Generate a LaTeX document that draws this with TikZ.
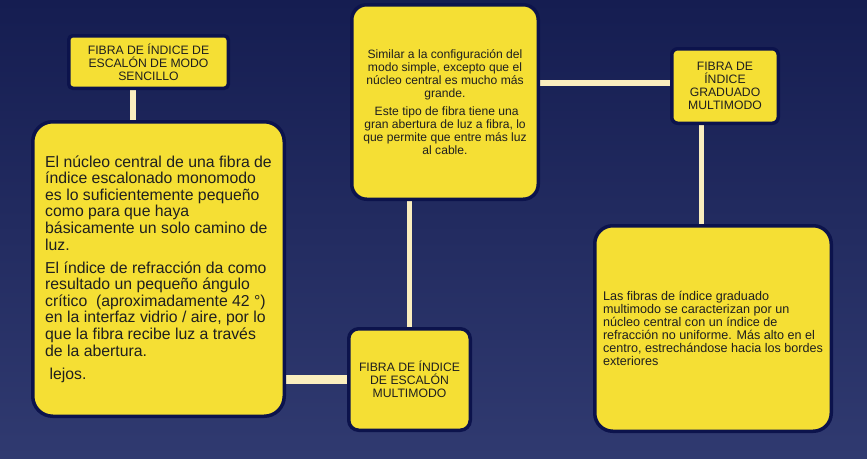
\documentclass[tikz,border=0pt]{standalone}
\usepackage{fontspec}
\setmainfont{Liberation Sans}
\usetikzlibrary{shapes}
\usetikzlibrary{backgrounds}
\definecolor{fondoarriba}{RGB}{21,29,81}
\definecolor{fondoabajo}{RGB}{48,58,112}
\definecolor{amarillo}{RGB}{245,223,52}
\definecolor{marino}{RGB}{12,19,76}
\definecolor{crema}{RGB}{250,238,190}
\tikzset{
	caja/.style={draw=marino, fill=amarillo, line width=3.5pt, inner sep=0pt, text=black!88},
	titulo/.style={caja, align=center, font=\fontsize{12.2}{13}\selectfont},
	union/.style={draw=crema, line width=5.5pt}
}

\begin{document}
\begin{tikzpicture}[x=1pt, y=-1pt]
					\useasboundingbox (0,0) rectangle (867,458);
					\node[titulo, rounded corners=4pt, minimum width=159.5pt, minimum height=52.5pt] (sencillo) at (148.5,62) {FIBRA DE ÍNDICE DE\\ESCALÓN DE MODO\\SENCILLO};
					\node[caja, rounded corners=20pt, minimum width=251.5pt, minimum height=294.5pt, align=left, font=\fontsize{15.8}{16.6}\selectfont] (sencilloinfo) at (158.5,269) {El núcleo central de una fibra de\\índice escalonado monomodo\\es lo suficientemente pequeño\\como para que haya\\básicamente un solo camino de\\luz.\\[6.5pt]El índice de refracción da como\\resultado un pequeño ángulo\\crítico\ \ (aproximadamente 42 °)\\en la interfaz vidrio / aire, por lo\\que la fibra recibe luz a través\\de la abertura.\\[6.5pt]\ lejos.};
					\node[caja, rounded corners=15pt, minimum width=186.5pt, minimum height=194.5pt, align=center, font=\fontsize{12.1}{13.1}\selectfont] (info) at (445,102) {Similar a la configuración del\\modo simple, excepto que el\\núcleo central es mucho más\\grande.\\[5pt]\ Este tipo de fibra tiene una\\gran abertura de luz a fibra, lo\\que permite que entre más luz\\al cable.};
					\node[titulo, rounded corners=6pt, minimum width=106.5pt, minimum height=74.5pt] (graduado) at (725,86) {FIBRA DE\\ÍNDICE\\GRADUADO\\MULTIMODO};
					\node[caja, rounded corners=18pt, minimum width=236.5pt, minimum height=205.5pt, align=left, font=\fontsize{12.6}{13}\selectfont] (graduadoinfo) at (713,328.5) {Las fibras de índice graduado\\multimodo se caracterizan por un\\núcleo central con un índice de\\refracción no uniforme. Más alto en el\\centro, estrechándose hacia los bordes\\exteriores};
					\node[titulo, rounded corners=10pt, minimum width=121.5pt, minimum height=101.5pt] (escalon) at (409.5,379.5) {FIBRA DE ÍNDICE\\DE ESCALÓN\\MULTIMODO};
					\begin{pgfonlayer}{background}
					\shade[top color=fondoarriba, bottom color=fondoabajo] (0,0) rectangle (867,458);
					\draw[union] ([xshift=-15.5pt]sencillo.center) -- ([xshift=-15.5pt]sencillo.center |- sencilloinfo.center);
					\draw[union, line width=9pt] (escalon.center) -- (escalon.center -| sencilloinfo.center);
					\draw[union] (escalon.center) -- (escalon.center |- info.center);
					\draw[union] ([yshift=3pt]graduado.center) -- ([yshift=3pt]graduado.center -| info.center);
					\draw[union] ([xshift=-23.5pt]graduado.center) -- ([xshift=-23.5pt]graduado.center |- graduadoinfo.center);
					\end{pgfonlayer}
				\end{tikzpicture}
\end{document}
